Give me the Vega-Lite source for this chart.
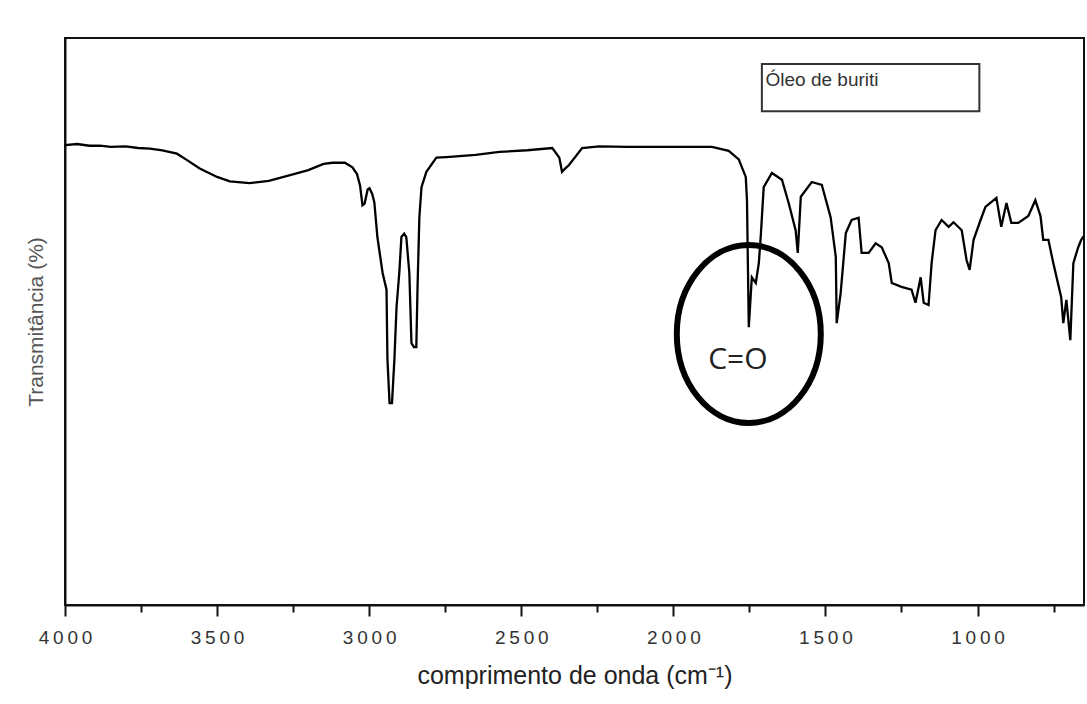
{
  "$schema": "https://vega.github.io/schema/vega-lite/v6.json",
  "width": 1019,
  "height": 567,
  "autosize": "none",
  "padding": {"left": 65, "top": 38, "right": 3, "bottom": 99},
  "background": "white",
  "config": {
    "view": {"stroke": "#111", "strokeWidth": 2},
    "font": "Liberation Sans"
  },
  "datasets": {
    "spectrum": [
      {"wn": 4000, "t": 81.1}, {"wn": 3960, "t": 81.3}, {"wn": 3920, "t": 81.0}, {"wn": 3885, "t": 81.0},
      {"wn": 3850, "t": 80.8}, {"wn": 3800, "t": 80.9}, {"wn": 3760, "t": 80.6}, {"wn": 3721, "t": 80.5},
      {"wn": 3680, "t": 80.2}, {"wn": 3632, "t": 79.6}, {"wn": 3600, "t": 78.5}, {"wn": 3557, "t": 77.0},
      {"wn": 3500, "t": 75.5}, {"wn": 3458, "t": 74.7}, {"wn": 3393, "t": 74.4}, {"wn": 3330, "t": 74.8},
      {"wn": 3260, "t": 75.8}, {"wn": 3200, "t": 76.7}, {"wn": 3150, "t": 77.8}, {"wn": 3120, "t": 78.0},
      {"wn": 3080, "t": 78.0}, {"wn": 3055, "t": 77.2}, {"wn": 3040, "t": 76.0}, {"wn": 3030, "t": 74.0},
      {"wn": 3022, "t": 70.5}, {"wn": 3015, "t": 70.8}, {"wn": 3005, "t": 73.3}, {"wn": 2999, "t": 73.5},
      {"wn": 2990, "t": 72.5}, {"wn": 2983, "t": 71.0}, {"wn": 2973, "t": 64.9}, {"wn": 2956, "t": 58.6},
      {"wn": 2943, "t": 55.6}, {"wn": 2940, "t": 43.4}, {"wn": 2933, "t": 35.6}, {"wn": 2925, "t": 35.6},
      {"wn": 2917, "t": 43.4}, {"wn": 2910, "t": 52.6}, {"wn": 2901, "t": 58.6}, {"wn": 2894, "t": 64.9},
      {"wn": 2885, "t": 65.5}, {"wn": 2878, "t": 64.9}, {"wn": 2868, "t": 58.6}, {"wn": 2861, "t": 46.2},
      {"wn": 2853, "t": 45.5}, {"wn": 2845, "t": 45.5}, {"wn": 2841, "t": 56.1}, {"wn": 2835, "t": 68.4},
      {"wn": 2828, "t": 73.7}, {"wn": 2812, "t": 76.4}, {"wn": 2779, "t": 78.9}, {"wn": 2746, "t": 79.0},
      {"wn": 2650, "t": 79.4}, {"wn": 2572, "t": 79.9}, {"wn": 2480, "t": 80.2}, {"wn": 2398, "t": 80.6},
      {"wn": 2375, "t": 78.9}, {"wn": 2366, "t": 76.4}, {"wn": 2355, "t": 77.0}, {"wn": 2343, "t": 77.6},
      {"wn": 2300, "t": 80.6}, {"wn": 2244, "t": 80.9}, {"wn": 2150, "t": 80.8}, {"wn": 2080, "t": 80.8},
      {"wn": 1873, "t": 80.8}, {"wn": 1818, "t": 80.1}, {"wn": 1785, "t": 78.6}, {"wn": 1762, "t": 75.5},
      {"wn": 1758, "t": 71.4}, {"wn": 1752, "t": 49.0}, {"wn": 1742, "t": 57.8}, {"wn": 1729, "t": 56.8},
      {"wn": 1719, "t": 60.3}, {"wn": 1712, "t": 65.6}, {"wn": 1703, "t": 73.7}, {"wn": 1676, "t": 76.2},
      {"wn": 1643, "t": 75.0}, {"wn": 1621, "t": 70.9}, {"wn": 1598, "t": 66.1}, {"wn": 1591, "t": 62.1},
      {"wn": 1581, "t": 72.0}, {"wn": 1545, "t": 74.6}, {"wn": 1512, "t": 74.1}, {"wn": 1483, "t": 68.4},
      {"wn": 1466, "t": 61.4}, {"wn": 1463, "t": 49.7}, {"wn": 1450, "t": 55.0}, {"wn": 1433, "t": 65.6},
      {"wn": 1414, "t": 67.9}, {"wn": 1391, "t": 68.3}, {"wn": 1381, "t": 62.1}, {"wn": 1358, "t": 62.1},
      {"wn": 1335, "t": 63.8}, {"wn": 1315, "t": 63.1}, {"wn": 1292, "t": 60.3}, {"wn": 1282, "t": 56.8},
      {"wn": 1250, "t": 56.1}, {"wn": 1217, "t": 55.6}, {"wn": 1204, "t": 53.3}, {"wn": 1187, "t": 57.8},
      {"wn": 1177, "t": 53.3}, {"wn": 1161, "t": 52.9}, {"wn": 1151, "t": 60.3}, {"wn": 1138, "t": 66.1},
      {"wn": 1118, "t": 67.9}, {"wn": 1095, "t": 66.7}, {"wn": 1079, "t": 67.5}, {"wn": 1052, "t": 66.1},
      {"wn": 1036, "t": 60.8}, {"wn": 1026, "t": 59.1}, {"wn": 1013, "t": 64.4}, {"wn": 990, "t": 67.9},
      {"wn": 974, "t": 70.2}, {"wn": 938, "t": 71.8}, {"wn": 922, "t": 66.7}, {"wn": 905, "t": 70.9},
      {"wn": 889, "t": 67.4}, {"wn": 866, "t": 67.4}, {"wn": 833, "t": 68.6}, {"wn": 810, "t": 71.4},
      {"wn": 793, "t": 68.6}, {"wn": 784, "t": 64.4}, {"wn": 767, "t": 64.4}, {"wn": 751, "t": 60.3},
      {"wn": 725, "t": 54.3}, {"wn": 718, "t": 49.7}, {"wn": 708, "t": 53.8}, {"wn": 695, "t": 46.7},
      {"wn": 685, "t": 60.3}, {"wn": 669, "t": 63.1}, {"wn": 659, "t": 64.4}, {"wn": 652, "t": 65.0}
    ],
    "legendBox": [{"label": "Óleo de buriti", "x1": 1709, "x2": 994, "y1": 87.1, "y2": 95.4, "tx": 1697, "ty": 92.6}],
    "peak": [{"label": "C=O", "wn": 1752, "t": 47.8, "tx": 1788, "ty": 43.2}]
  },
  "layer": [
    {
      "data": {"name": "spectrum"},
      "mark": {"type": "line", "color": "#000", "strokeWidth": 2.3, "interpolate": "linear"},
      "encoding": {
        "x": {
          "field": "wn", "type": "quantitative",
          "scale": {"domain": [4000, 650], "nice": false, "zero": false},
          "axis": {
            "title": "comprimento de onda (cm⁻¹)",
            "values": [4000, 3750, 3500, 3250, 3000, 2750, 2500, 2250, 2000, 1750, 1500, 1250, 1000, 750],
            "labelExpr": "datum.value % 500 === 0 ? join(split(datum.label, ''), '\u2009') : ''",
            "format": "d",
            "grid": false,
            "domainColor": "#111", "domainWidth": 2,
            "tickColor": "#111", "tickWidth": 2,
            "tickSize": {"condition": {"test": "datum.value % 500 === 0", "value": 11}, "value": 7},
            "labelFontSize": 19, "labelColor": "#333", "labelPadding": 12, "labelFont": "Liberation Sans",
            "labelFlush": false,
            "titleFontSize": 25, "titleFontWeight": "normal", "titleColor": "#222", "titlePadding": 16
          }
        },
        "y": {
          "field": "t", "type": "quantitative",
          "scale": {"domain": [0, 100], "nice": false},
          "axis": {
            "title": "Transmitância (%)",
            "labels": false, "ticks": false, "grid": false,
            "domainColor": "#111", "domainWidth": 2,
            "titleFontSize": 21, "titleFontWeight": "normal", "titleColor": "#555", "titlePadding": 19
          }
        }
      }
    },
    {
      "data": {"name": "legendBox"},
      "mark": {"type": "rect", "fill": "white", "stroke": "#333", "strokeWidth": 2},
      "encoding": {
        "x": {"field": "x1", "type": "quantitative"},
        "x2": {"field": "x2"},
        "y": {"field": "y1", "type": "quantitative"},
        "y2": {"field": "y2"}
      }
    },
    {
      "data": {"name": "legendBox"},
      "mark": {"type": "text", "align": "left", "baseline": "middle", "fontSize": 19, "color": "#333", "font": "Liberation Sans"},
      "encoding": {
        "x": {"field": "tx", "type": "quantitative"},
        "y": {"field": "ty", "type": "quantitative"},
        "text": {"field": "label"}
      }
    },
    {
      "data": {"name": "peak"},
      "mark": {"type": "point", "shape": "M -0.809 0 A 0.809 1 0 1 1 0.809 0 A 0.809 1 0 1 1 -0.809 0 Z", "size": 31684, "filled": false, "stroke": "#000", "strokeWidth": 6, "opacity": 1},
      "encoding": {
        "x": {"field": "wn", "type": "quantitative"},
        "y": {"field": "t", "type": "quantitative"}
      }
    },
    {
      "data": {"name": "peak"},
      "mark": {"type": "text", "align": "center", "baseline": "middle", "fontSize": 30, "color": "#222", "font": "Open Sans"},
      "encoding": {
        "x": {"field": "tx", "type": "quantitative"},
        "y": {"field": "ty", "type": "quantitative"},
        "text": {"field": "label"}
      }
    }
  ]
}
